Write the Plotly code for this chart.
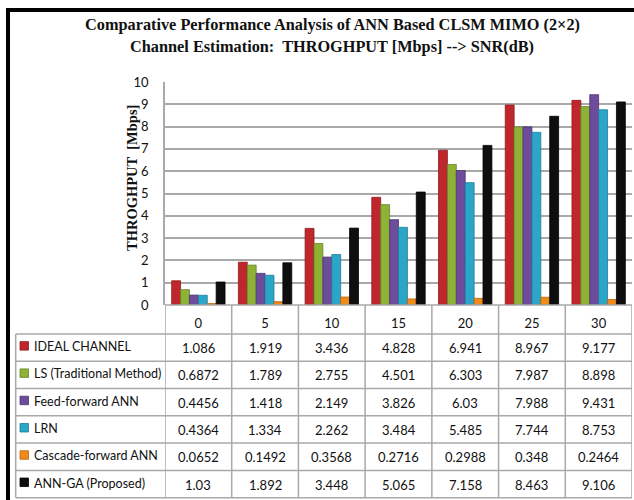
import plotly.graph_objects as go

# SNR values (dB) shown as categories along the x axis / table header
snr = ["0", "5", "10", "15", "20", "25", "30"]

# Throughput (Mbps) for each estimation method
series_names = [
    "IDEAL CHANNEL",
    "LS (Traditional Method)",
    "Feed-forward ANN",
    "LRN",
    "Cascade-forward ANN",
    "ANN-GA (Proposed)",
]
ideal_channel = [1.086, 1.919, 3.436, 4.828, 6.941, 8.967, 9.177]
ls_traditional = [0.6872, 1.789, 2.755, 4.501, 6.303, 7.987, 8.898]
feed_forward_ann = [0.4456, 1.418, 2.149, 3.826, 6.03, 7.988, 9.431]
lrn = [0.4364, 1.334, 2.262, 3.484, 5.485, 7.744, 8.753]
cascade_forward_ann = [0.0652, 0.1492, 0.3568, 0.2716, 0.2988, 0.348, 0.2464]
ann_ga = [1.03, 1.892, 3.448, 5.065, 7.158, 8.463, 9.106]

series_values = [ideal_channel, ls_traditional, feed_forward_ann, lrn,
                 cascade_forward_ann, ann_ga]

y_ticks = list(range(0, 11))

title_lines = [
    "Comparative Performance Analysis of ANN Based CLSM MIMO (2×2)",
    "Channel Estimation:  THROGHPUT [Mbps] --> SNR(dB)",
]
y_title = "THROGHPUT  [Mbps]"

colors = ["#C0272D", "#8DB236", "#6D4C9B", "#2CA6C8", "#F08A1C", "#0E0E0E"]
edges = ["#8E1A1F", "#66842A", "#4E3573", "#1D7C97", "#B8650F", "#000000"]

# figure geometry (pixels)
W, H = 634, 500
L, R, T, B = 165, 2, 82, 195
PW, PH = W - L - R, H - T - B

def fx(px):
    return (px - L) / PW

def fy(py):
    return (T + PH - py) / PH

LABEL_FONT = "Lato, 'Open Sans', sans-serif"
SERIF = "'Liberation Serif', 'DejaVu Serif', serif"
GRID = "#A9A9A9"

fig = go.Figure()
for name, vals, c, e in zip(series_names, series_values, colors, edges):
    fig.add_trace(go.Bar(
        x=snr, y=vals, name=name,
        marker=dict(color=c, line=dict(color=e, width=0.8)),
        showlegend=False,
    ))

fig.update_layout(
    width=W, height=H,
    margin=dict(l=L, r=R, t=T, b=B),
    paper_bgcolor="white", plot_bgcolor="white",
    barmode="group", bargap=0.2, bargroupgap=0.0,
    xaxis=dict(
        type="category", range=[-0.5, len(snr) - 0.5],
        showgrid=False, showline=False, zeroline=False,
        ticks="", ticklabelstandoff=9,
        tickfont=dict(family=LABEL_FONT, size=13, color="#111"),
    ),
    yaxis=dict(
        range=[0, 10], tickvals=y_ticks, showgrid=True,
        gridcolor=GRID, gridwidth=1.5,
        showline=True, linecolor=GRID, linewidth=1.5,
        zeroline=False, ticks="", ticklabelstandoff=12,
        tickfont=dict(family=LABEL_FONT, size=13, color="#111"),
    ),
)

# chart title, two centred lines
for line, ypx in zip(title_lines, [25, 46.5]):
    fig.add_annotation(
        text=f"<b>{line}</b>", xref="paper", yref="paper",
        x=fx(332), y=fy(ypx), xanchor="center", yanchor="middle",
        showarrow=False, font=dict(family=SERIF, size=16.3, color="#111"),
    )

# y-axis title
fig.add_annotation(
    text=f"<b>{y_title}</b>", textangle=-90,
    xref="paper", yref="paper", x=fx(132), y=fy(178),
    xanchor="center", yanchor="middle",
    showarrow=False, font=dict(family=SERIF, size=14.5, color="#111"),
)

# data table under the chart
table_left = 15.7
header_bottom = 334
row_h = 27.28
n_rows = len(series_names)
table_bottom = header_bottom + row_h * n_rows
line_style = dict(color=GRID, width=1.5)

shapes = []
# horizontal row lines
for i in range(n_rows + 1):
    yy = fy(header_bottom + row_h * i)
    shapes.append(dict(type="line", xref="paper", yref="paper",
                       x0=fx(table_left), x1=1, y0=yy, y1=yy, line=line_style))
# header top line along the x axis
shapes.append(dict(type="line", xref="paper", yref="paper",
                   x0=0, x1=1, y0=0, y1=0, line=line_style))
# vertical column lines (category boundaries)
for k in range(len(snr) + 1):
    shapes.append(dict(type="line", xref="x", yref="paper",
                       x0=k - 0.5, x1=k - 0.5, y0=0, y1=fy(table_bottom),
                       line=line_style))
# left edge of label column
shapes.append(dict(type="line", xref="paper", yref="paper",
                   x0=fx(table_left), x1=fx(table_left),
                   y0=fy(header_bottom), y1=fy(table_bottom), line=line_style))

for i, (name, vals, c, e) in enumerate(zip(series_names, series_values, colors, edges)):
    yc = header_bottom + row_h * (i + 0.5)
    # legend key
    shapes.append(dict(type="rect", xref="paper", yref="paper",
                       x0=fx(20), x1=fx(28.5), y0=fy(yc - 6), y1=fy(yc + 2.5),
                       fillcolor=c, line=dict(color=e, width=0.8)))
    fig.add_annotation(text=name, xref="paper", yref="paper",
                       x=fx(31.5), y=fy(yc - 1), xanchor="left", yanchor="middle",
                       showarrow=False,
                       font=dict(family=LABEL_FONT, size=12.5, color="#111"))
    for k, v in enumerate(vals):
        fig.add_annotation(text=str(v), xref="x", yref="paper",
                           x=k, y=fy(yc + 0.5), xanchor="center", yanchor="middle",
                           showarrow=False,
                           font=dict(family=LABEL_FONT, size=13, color="#111"))

# outer frame (left and top edges)
shapes.append(dict(type="line", xref="paper", yref="paper",
                   x0=fx(8), x1=fx(8), y0=fy(8), y1=fy(H + 5),
                   line=dict(color="black", width=4)))
shapes.append(dict(type="line", xref="paper", yref="paper",
                   x0=fx(6), x1=fx(W + 5), y0=fy(10), y1=fy(10),
                   line=dict(color="black", width=4)))

fig.update_layout(shapes=shapes)

fig.write_html("out.html")
